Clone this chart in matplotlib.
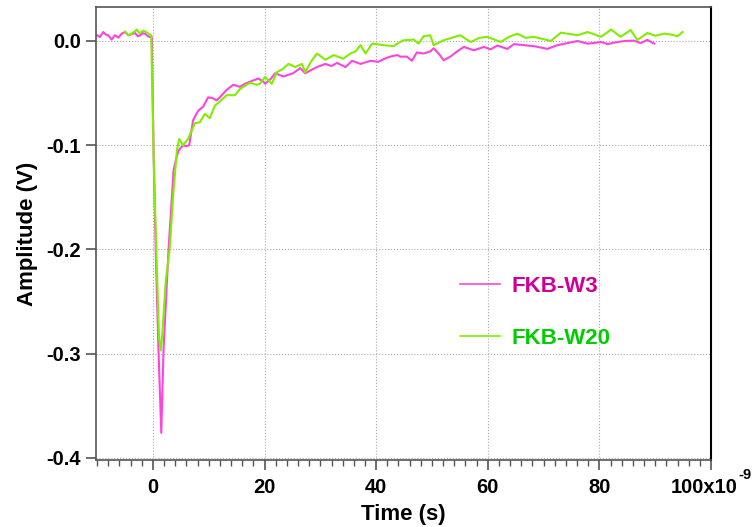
import matplotlib
matplotlib.use('Agg')
import matplotlib.pyplot as plt
import matplotlib.transforms as mtransforms
import numpy as np

plt.rcParams['font.family'] = ['Liberation Sans', 'DejaVu Sans']
plt.rcParams['font.weight'] = 'bold'
plt.rcParams['axes.unicode_minus'] = False

# time in ns, amplitude in V
t_w3 = [-10.0, -9.5, -8.9, -8.4, -8.0, -7.4, -6.8, -6.2, -5.6, -5.0, -4.4, -3.8, -3.2, -2.7,
        -2.3, -1.8, -1.4, -0.9, -0.5, -0.2, 0.15, 0.5, 1.0, 1.5, 1.9, 2.8, 3.4, 3.7, 4.2, 4.6,
        5.4, 6.0, 6.5, 7.2, 7.6, 8.1, 9.0, 9.9, 10.8, 11.4, 12.0, 13.2, 14.4, 15.6, 16.5, 17.4,
        18.9, 19.8, 20.1, 21.0, 21.9, 23.4, 25.1, 26.4, 27.3, 28.3, 29.4, 30.9, 32.0, 33.0,
        34.5, 35.7, 37.2, 39.0, 40.4, 41.5, 42.5, 43.8, 44.3, 45.5, 46.4, 47.3, 48.5, 49.7,
        50.3, 51.2, 52.1, 53.3, 54.5, 55.7, 57.5, 59.3, 60.5, 61.7, 63.5, 64.7, 66.5, 68.3,
        70.7, 72.5, 74.3, 76.1, 77.9, 80.3, 81.5, 82.7, 84.5, 86.2, 87.4, 88.6, 89.8]
v_w3 = [0.0055, 0.0038, 0.0086, 0.006, 0.0055, 0.0013, 0.0055, 0.0032, 0.007, 0.0086, 0.0055,
        0.0065, 0.0077, 0.0045, 0.0055, 0.0075, 0.007, 0.0045, 0.0038, 0.004, -0.115, -0.2,
        -0.297, -0.376, -0.297, -0.2, -0.15, -0.124, -0.112, -0.105, -0.100, -0.101, -0.100,
        -0.076, -0.072, -0.067, -0.063, -0.054, -0.055, -0.057, -0.054, -0.047, -0.042, -0.044,
        -0.041, -0.039, -0.036, -0.039, -0.041, -0.037, -0.031, -0.034, -0.031, -0.026, -0.031,
        -0.028, -0.025, -0.022, -0.024, -0.021, -0.025, -0.019, -0.022, -0.019, -0.020, -0.017,
        -0.015, -0.0135, -0.015, -0.015, -0.019, -0.011, -0.012, -0.010, -0.007, -0.012,
        -0.0185, -0.015, -0.010, -0.0057, -0.0089, -0.0057, -0.008, -0.0044, -0.0076, -0.003,
        -0.004, -0.005, -0.0076, -0.004, -0.002, 0.000, -0.0026, -0.001, -0.003, -0.0015,
        0.000, 0.0003, -0.002, 0.0011, -0.0026]

t_w20 = [-5.0, -4.7, -4.4, -3.8, -3.3, -2.9, -2.6, -2.3, -1.7, -1.2, -0.8, -0.3, 0.1, 0.6, 1.1,
         1.4, 1.7, 2.3, 3.0, 3.6, 4.3, 4.7, 5.4, 6.3, 7.5, 8.4, 9.3, 10.2, 11.1, 12.0, 13.2,
         14.7, 15.6, 17.4, 18.6, 19.2, 20.1, 21.3, 22.2, 23.2, 24.3, 25.5, 26.7, 27.3, 28.3,
         29.4, 30.9, 32.4, 34.1, 35.4, 36.3, 37.2, 38.1, 39.3, 41.4, 43.1, 44.3, 44.9, 46.1,
         46.7, 47.6, 48.5, 49.7, 50.3, 52.1, 53.5, 55.1, 56.9, 58.5, 59.9, 62.3, 63.8, 65.3,
         66.8, 68.3, 71.3, 73.1, 76.1, 77.9, 80.3, 82.1, 83.8, 85.6, 86.8, 88.6, 90.0, 91.6,
         93.0, 94.0, 94.9]
v_w20 = [0.009, 0.0075, 0.0055, 0.007, 0.009, 0.011, 0.0085, 0.0077, 0.010, 0.0085, 0.007,
         0.0055, -0.105, -0.2, -0.285, -0.297, -0.28, -0.23, -0.2, -0.15, -0.105, -0.094,
         -0.100, -0.094, -0.079, -0.078, -0.070, -0.074, -0.062, -0.058, -0.052, -0.052,
         -0.046, -0.040, -0.042, -0.041, -0.0345, -0.041, -0.030, -0.027, -0.022, -0.025,
         -0.022, -0.030, -0.020, -0.012, -0.018, -0.0135, -0.017, -0.012, -0.010, -0.004,
         -0.012, -0.0025, -0.004, -0.005, -0.001, 0.0007, 0.001, 0.0015, -0.0025, 0.0045,
         0.0055, -0.004, 0.0007, 0.003, 0.0055, -0.001, 0.003, 0.004, -0.001, 0.004, 0.007,
         0.003, 0.004, 0.000, 0.008, 0.0055, 0.0086, 0.004, 0.011, 0.004, 0.0105, 0.001,
         0.0077, 0.005, 0.007, 0.006, 0.0045, 0.0086]

x_ticks = [0, 20, 40, 60, 80, 100]
x_labels = ['0', '20', '40', '60', '80', '100x10']
y_ticks = [0.0, -0.1, -0.2, -0.3, -0.4]

fig = plt.figure(figsize=(7.54, 5.27), dpi=100)
ax = fig.add_axes([0.1273, 0.1271, 0.8157, 0.8596])

ax.plot(t_w3, v_w3, color='#ff44dd', lw=1.5, label='FKB-W3')
ax.plot(t_w20, v_w20, color='#80ee00', lw=1.5, label='FKB-W20')

ax.set_xlim(-10.2, 100)
ax.set_ylim(-0.402, 0.0326)
ax.set_xticks(x_ticks)
ax.set_xticklabels(x_labels)
ax.set_xticks(np.arange(-10, 101, 2), minor=True)
ax.set_yticks(y_ticks)
ax.set_yticklabels(['%.1f' % v for v in y_ticks])

ax.grid(True, which='major', color='#aaaaaa', linestyle=':', linewidth=0.8)
ax.tick_params(axis='both', which='major', direction='out', length=7, width=1.2,
               color='#555555', labelsize=14.5, pad=4)
ax.tick_params(axis='x', which='minor', direction='out', length=4, width=1.0, color='#555555')
ax.tick_params(axis='x', which='major', pad=6)

# shift the last label left so that "100x10" plus the exponent sits centred on the tick
last = ax.get_xticklabels()[-1]
last.set_transform(last.get_transform() + mtransforms.ScaledTranslation(-7 / 100, 0, fig.dpi_scale_trans))
ax.annotate('-9', xy=(100, 0), xycoords=('data', 'axes fraction'), xytext=(20, -11),
            textcoords='offset points', fontsize=10.5, fontweight='bold', ha='left', va='center')

for side in ['left', 'top', 'bottom']:
    ax.spines[side].set_color('#555555')
    ax.spines[side].set_linewidth(1.2)
ax.spines['right'].set_color('black')
ax.spines['right'].set_linewidth(1.5)

ax.set_xlabel('Time (s)', fontsize=16, fontweight='bold', labelpad=5)
ax.set_ylabel('Amplitude (V)', fontsize=16, fontweight='bold', labelpad=6)

leg = ax.legend(loc='upper left', bbox_to_anchor=(0.56, 0.45), frameon=False, fontsize=16,
                handlelength=1.8, handletextpad=0.5, labelspacing=1.4)
for txt, c in zip(leg.get_texts(), ['#cc0099', '#00cc00']):
    txt.set_color(c)
    txt.set_fontweight('bold')
for h in leg.get_lines():
    h.set_linewidth(1.2)

fig.savefig('out.png', dpi=100)
